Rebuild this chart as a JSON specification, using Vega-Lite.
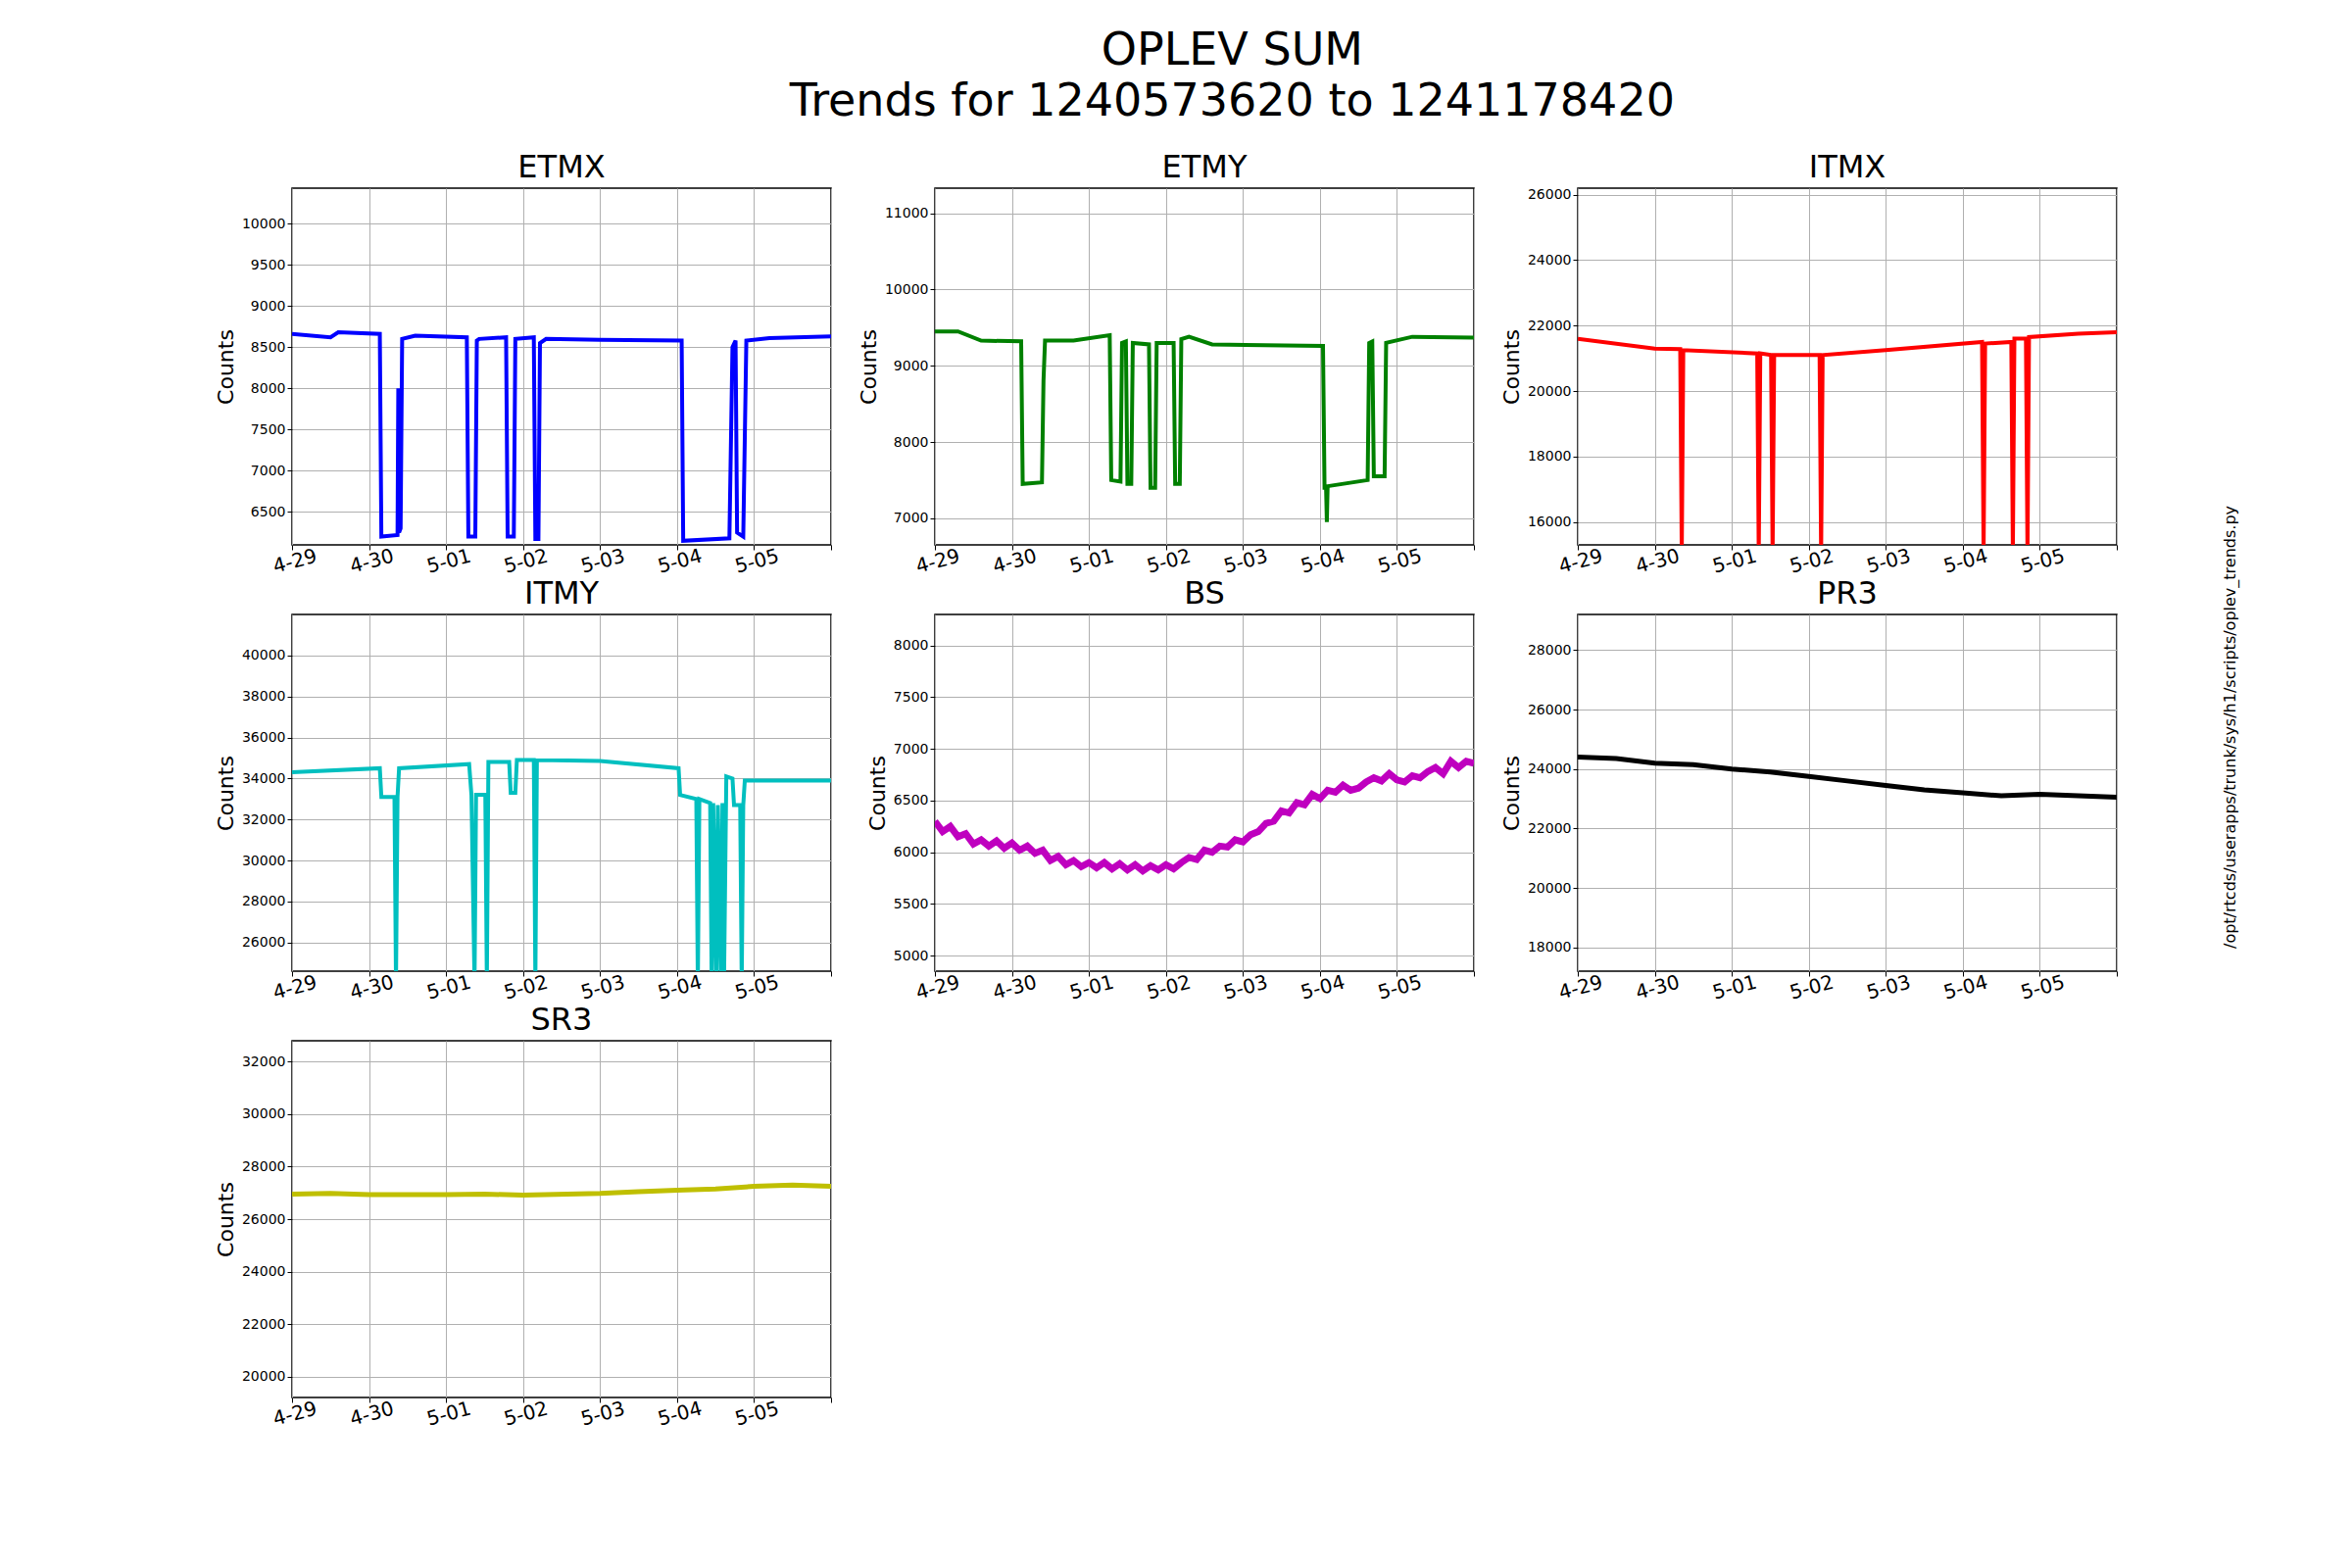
{
  "$schema": "https://vega.github.io/schema/vega-lite/v6.json",
  "background": "white",
  "padding": {"left": 218, "top": 28, "right": 20, "bottom": 20},
  "title": {"text": ["OPLEV SUM", "Trends for 1240573620 to 1241178420"], "fontSize": 46, "fontWeight": "normal", "font": "DejaVu Sans", "anchor": "middle", "offset": 26, "lineHeight": 52},
  "config": {
    "font": "DejaVu Sans",
    "view": {"stroke": "black", "strokeWidth": 1.5},
    "axis": {"labelFontSize": 14, "grid": true, "gridColor": "#b0b0b0", "gridOpacity": 1, "tickColor": "black", "domain": false, "labelColor": "black", "titleFontSize": 22, "titleFontWeight": "normal", "titleColor": "black", "format": "d"},
    "axisX": {"values": [0, 1, 2, 3, 4, 5, 6, 7], "labelExpr": "['4-29','4-30','5-01','5-02','5-03','5-04','5-05',''][datum.value]", "labelAngle": -15, "labelFontSize": 20, "title": null, "labelAlign": "center"},
    "title": {"fontSize": 32, "fontWeight": "normal", "offset": 4}
  },
  "datasets": {
    "etmx": [{"t":0,"v":8660},{"t":0.5,"v":8620},{"t":0.6,"v":8680},{"t":1.14,"v":8660},{"t":1.16,"v":6200},{"t":1.37,"v":6220},{"t":1.38,"v":8000},{"t":1.39,"v":6250},{"t":1.41,"v":6300},{"t":1.43,"v":8600},{"t":1.6,"v":8640},{"t":2.27,"v":8620},{"t":2.29,"v":6200},{"t":2.38,"v":6200},{"t":2.4,"v":8580},{"t":2.43,"v":8600},{"t":2.78,"v":8620},{"t":2.8,"v":6200},{"t":2.88,"v":6200},{"t":2.9,"v":8600},{"t":3.14,"v":8620},{"t":3.16,"v":6170},{"t":3.2,"v":6170},{"t":3.22,"v":8550},{"t":3.3,"v":8600},{"t":4.0,"v":8590},{"t":5.06,"v":8580},{"t":5.08,"v":6150},{"t":5.68,"v":6180},{"t":5.72,"v":8500},{"t":5.76,"v":8580},{"t":5.78,"v":6250},{"t":5.86,"v":6200},{"t":5.9,"v":8580},{"t":6.2,"v":8610},{"t":7,"v":8630}],
    "etmy": [{"t":0,"v":9450},{"t":0.3,"v":9450},{"t":0.6,"v":9330},{"t":1.12,"v":9320},{"t":1.14,"v":7450},{"t":1.39,"v":7470},{"t":1.41,"v":8800},{"t":1.43,"v":9330},{"t":1.8,"v":9330},{"t":2.27,"v":9400},{"t":2.29,"v":7500},{"t":2.41,"v":7480},{"t":2.43,"v":9300},{"t":2.48,"v":9320},{"t":2.5,"v":7450},{"t":2.55,"v":7450},{"t":2.57,"v":9300},{"t":2.78,"v":9280},{"t":2.8,"v":7400},{"t":2.86,"v":7400},{"t":2.88,"v":9300},{"t":3.1,"v":9300},{"t":3.12,"v":7450},{"t":3.18,"v":7450},{"t":3.2,"v":9350},{"t":3.3,"v":9380},{"t":3.6,"v":9280},{"t":5.04,"v":9260},{"t":5.06,"v":7400},{"t":5.08,"v":7400},{"t":5.09,"v":6950},{"t":5.1,"v":7420},{"t":5.62,"v":7500},{"t":5.64,"v":9300},{"t":5.68,"v":9320},{"t":5.7,"v":7550},{"t":5.84,"v":7550},{"t":5.86,"v":9300},{"t":6.2,"v":9380},{"t":7,"v":9370}],
    "itmx": [{"t":0,"v":21600},{"t":1.0,"v":21300},{"t":1.33,"v":21280},{"t":1.35,"v":15000},{"t":1.37,"v":21250},{"t":2.33,"v":21150},{"t":2.35,"v":15000},{"t":2.37,"v":21150},{"t":2.51,"v":21100},{"t":2.53,"v":15000},{"t":2.55,"v":21100},{"t":3.14,"v":21100},{"t":3.16,"v":15000},{"t":3.18,"v":21100},{"t":4.0,"v":21250},{"t":5.25,"v":21500},{"t":5.27,"v":15000},{"t":5.29,"v":21450},{"t":5.63,"v":21500},{"t":5.65,"v":15000},{"t":5.67,"v":21600},{"t":5.82,"v":21600},{"t":5.84,"v":15000},{"t":5.86,"v":21650},{"t":6.5,"v":21750},{"t":7,"v":21800}],
    "itmy": [{"t":0,"v":34300},{"t":1.14,"v":34500},{"t":1.16,"v":33100},{"t":1.33,"v":33100},{"t":1.35,"v":24000},{"t":1.37,"v":33100},{"t":1.39,"v":34500},{"t":2.3,"v":34700},{"t":2.33,"v":33200},{"t":2.37,"v":24000},{"t":2.39,"v":33200},{"t":2.51,"v":33200},{"t":2.53,"v":24000},{"t":2.55,"v":34800},{"t":2.82,"v":34800},{"t":2.84,"v":33300},{"t":2.9,"v":33300},{"t":2.92,"v":34900},{"t":3.14,"v":34900},{"t":3.16,"v":24000},{"t":3.18,"v":34900},{"t":4.0,"v":34850},{"t":5.02,"v":34500},{"t":5.04,"v":33200},{"t":5.25,"v":33000},{"t":5.27,"v":24000},{"t":5.29,"v":33000},{"t":5.43,"v":32800},{"t":5.45,"v":24000},{"t":5.47,"v":32800},{"t":5.51,"v":24000},{"t":5.53,"v":32700},{"t":5.57,"v":24000},{"t":5.59,"v":32800},{"t":5.61,"v":24000},{"t":5.64,"v":34100},{"t":5.72,"v":34000},{"t":5.74,"v":32700},{"t":5.82,"v":32700},{"t":5.84,"v":24000},{"t":5.86,"v":32700},{"t":5.88,"v":33900},{"t":7,"v":33900}],
    "bs": [{"t":0,"v":6300},{"t":0.1,"v":6200},{"t":0.2,"v":6250},{"t":0.3,"v":6150},{"t":0.4,"v":6180},{"t":0.5,"v":6080},{"t":0.6,"v":6120},{"t":0.7,"v":6060},{"t":0.8,"v":6110},{"t":0.9,"v":6040},{"t":1.0,"v":6090},{"t":1.1,"v":6020},{"t":1.2,"v":6060},{"t":1.3,"v":5990},{"t":1.4,"v":6020},{"t":1.5,"v":5920},{"t":1.6,"v":5960},{"t":1.7,"v":5880},{"t":1.8,"v":5920},{"t":1.9,"v":5860},{"t":2.0,"v":5900},{"t":2.1,"v":5850},{"t":2.2,"v":5900},{"t":2.3,"v":5840},{"t":2.4,"v":5890},{"t":2.5,"v":5830},{"t":2.6,"v":5880},{"t":2.7,"v":5820},{"t":2.8,"v":5870},{"t":2.9,"v":5830},{"t":3.0,"v":5880},{"t":3.1,"v":5840},{"t":3.2,"v":5900},{"t":3.3,"v":5950},{"t":3.4,"v":5930},{"t":3.5,"v":6020},{"t":3.6,"v":6000},{"t":3.7,"v":6060},{"t":3.8,"v":6050},{"t":3.9,"v":6120},{"t":4.0,"v":6100},{"t":4.1,"v":6170},{"t":4.2,"v":6200},{"t":4.3,"v":6280},{"t":4.4,"v":6300},{"t":4.5,"v":6400},{"t":4.6,"v":6380},{"t":4.7,"v":6480},{"t":4.8,"v":6460},{"t":4.9,"v":6560},{"t":5.0,"v":6520},{"t":5.1,"v":6600},{"t":5.2,"v":6580},{"t":5.3,"v":6650},{"t":5.4,"v":6600},{"t":5.5,"v":6620},{"t":5.6,"v":6680},{"t":5.7,"v":6720},{"t":5.8,"v":6690},{"t":5.9,"v":6760},{"t":6.0,"v":6700},{"t":6.1,"v":6680},{"t":6.2,"v":6740},{"t":6.3,"v":6720},{"t":6.4,"v":6780},{"t":6.5,"v":6820},{"t":6.6,"v":6760},{"t":6.7,"v":6880},{"t":6.8,"v":6820},{"t":6.9,"v":6880},{"t":7,"v":6860}],
    "pr3": [{"t":0,"v":24400},{"t":0.5,"v":24350},{"t":1.0,"v":24200},{"t":1.5,"v":24150},{"t":2.0,"v":24000},{"t":2.5,"v":23900},{"t":3.0,"v":23750},{"t":3.5,"v":23600},{"t":4.0,"v":23450},{"t":4.5,"v":23300},{"t":5.0,"v":23200},{"t":5.5,"v":23100},{"t":6.0,"v":23150},{"t":6.5,"v":23100},{"t":7,"v":23050}],
    "sr3": [{"t":0,"v":26950},{"t":0.5,"v":26980},{"t":1.0,"v":26930},{"t":2.0,"v":26930},{"t":2.5,"v":26950},{"t":3.0,"v":26920},{"t":4.0,"v":26980},{"t":4.5,"v":27050},{"t":5.0,"v":27100},{"t":5.5,"v":27150},{"t":6.0,"v":27250},{"t":6.5,"v":27300},{"t":7,"v":27250}],
    "path": [{"s":"/opt/rtcds/userapps/trunk/sys/h1/scripts/oplev_trends.py"}]
  },
  "hconcat": [
    {
      "concat": [
        {"title": "ETMX", "width": 550, "height": 364, "data": {"name": "etmx"}, "mark": {"type": "line", "color": "#0000ff", "strokeWidth": 4, "clip": true},
         "encoding": {"x": {"field": "t", "type": "quantitative", "scale": {"domain": [0, 7], "nice": false}, "axis": {"values": [0,1,2,3,4,5,6,7]}},
                      "y": {"field": "v", "type": "quantitative", "scale": {"domain": [6100, 10430], "nice": false, "zero": false}, "axis": {"title": "Counts", "values": [6500,7000,7500,8000,8500,9000,9500,10000]}}}},
        {"title": "ETMY", "width": 550, "height": 364, "data": {"name": "etmy"}, "mark": {"type": "line", "color": "#008000", "strokeWidth": 4, "clip": true},
         "encoding": {"x": {"field": "t", "type": "quantitative", "scale": {"domain": [0, 7], "nice": false}, "axis": {"values": [0,1,2,3,4,5,6,7]}},
                      "y": {"field": "v", "type": "quantitative", "scale": {"domain": [6650, 11330], "nice": false, "zero": false}, "axis": {"title": "Counts", "values": [7000,8000,9000,10000,11000]}}}},
        {"title": "ITMX", "width": 550, "height": 364, "data": {"name": "itmx"}, "mark": {"type": "line", "color": "#ff0000", "strokeWidth": 4, "clip": true},
         "encoding": {"x": {"field": "t", "type": "quantitative", "scale": {"domain": [0, 7], "nice": false}, "axis": {"values": [0,1,2,3,4,5,6,7]}},
                      "y": {"field": "v", "type": "quantitative", "scale": {"domain": [15300, 26200], "nice": false, "zero": false}, "axis": {"title": "Counts", "values": [16000,18000,20000,22000,24000,26000]}}}},
        {"title": "ITMY", "width": 550, "height": 364, "data": {"name": "itmy"}, "mark": {"type": "line", "color": "#00bfbf", "strokeWidth": 4, "clip": true},
         "encoding": {"x": {"field": "t", "type": "quantitative", "scale": {"domain": [0, 7], "nice": false}, "axis": {"values": [0,1,2,3,4,5,6,7]}},
                      "y": {"field": "v", "type": "quantitative", "scale": {"domain": [24600, 42000], "nice": false, "zero": false}, "axis": {"title": "Counts", "values": [26000,28000,30000,32000,34000,36000,38000,40000]}}}},
        {"title": "BS", "width": 550, "height": 364, "data": {"name": "bs"}, "mark": {"type": "line", "color": "#bf00bf", "strokeWidth": 7, "clip": true},
         "encoding": {"x": {"field": "t", "type": "quantitative", "scale": {"domain": [0, 7], "nice": false}, "axis": {"values": [0,1,2,3,4,5,6,7]}},
                      "y": {"field": "v", "type": "quantitative", "scale": {"domain": [4850, 8300], "nice": false, "zero": false}, "axis": {"title": "Counts", "values": [5000,5500,6000,6500,7000,7500,8000]}}}},
        {"title": "PR3", "width": 550, "height": 364, "data": {"name": "pr3"}, "mark": {"type": "line", "color": "#000000", "strokeWidth": 5, "clip": true},
         "encoding": {"x": {"field": "t", "type": "quantitative", "scale": {"domain": [0, 7], "nice": false}, "axis": {"values": [0,1,2,3,4,5,6,7]}},
                      "y": {"field": "v", "type": "quantitative", "scale": {"domain": [17200, 29200], "nice": false, "zero": false}, "axis": {"title": "Counts", "values": [18000,20000,22000,24000,26000,28000]}}}},
        {"title": "SR3", "width": 550, "height": 364, "data": {"name": "sr3"}, "mark": {"type": "line", "color": "#bfbf00", "strokeWidth": 5, "clip": true},
         "encoding": {"x": {"field": "t", "type": "quantitative", "scale": {"domain": [0, 7], "nice": false}, "axis": {"values": [0,1,2,3,4,5,6,7]}},
                      "y": {"field": "v", "type": "quantitative", "scale": {"domain": [19200, 32800], "nice": false, "zero": false}, "axis": {"title": "Counts", "values": [20000,22000,24000,26000,28000,30000,32000]}}}}
      ],
      "columns": 3,
      "spacing": {"row": 0, "column": 20}
    },
    {
      "width": 40, "height": 1100, "view": {"stroke": null},
      "data": {"name": "path"},
      "mark": {"type": "text", "angle": 270, "fontSize": 16, "font": "DejaVu Sans", "color": "black", "align": "center", "baseline": "middle"},
      "encoding": {"text": {"field": "s"}}
    }
  ],
  "spacing": 90
}
